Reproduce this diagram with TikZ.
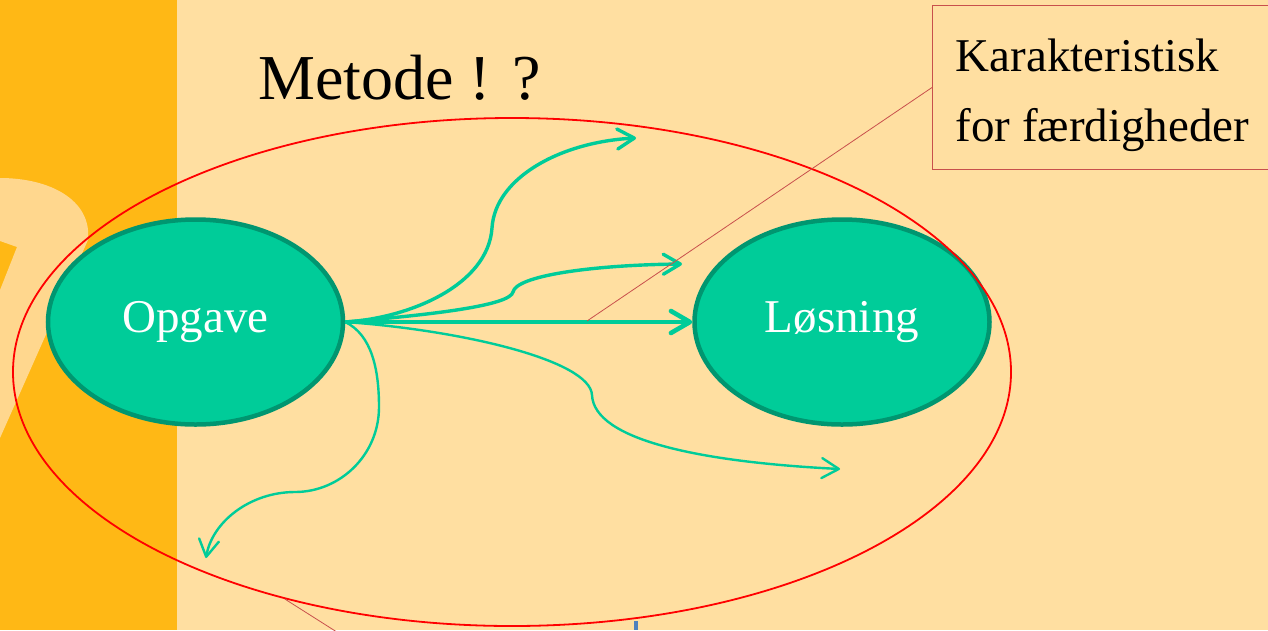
\documentclass[tikz,border=0pt]{standalone}
\usepackage{fontspec}
\setmainfont{Liberation Serif}
\definecolor{paper}{RGB}{255,223,161}
\definecolor{band}{RGB}{255,184,21}
\definecolor{glyph}{RGB}{255,215,142}
\definecolor{teal}{RGB}{0,204,153}
\definecolor{tealdark}{RGB}{0,150,112}
\definecolor{callred}{RGB}{200,80,76}
\definecolor{caret}{RGB}{79,129,189}
\usetikzlibrary{arrows.meta,shapes.geometric}
\tikzset{
  blob/.style={ellipse,draw=tealdark,line width=4.5pt,fill=teal,text=white,
               minimum width=295pt,minimum height=205pt,inner sep=0pt,
               font=\fontsize{47}{56}\selectfont},
  ring/.style={ellipse,draw=red,line width=1.8pt,minimum width=998pt,minimum height=508pt},
  callout/.style={draw=callred,line width=1pt,fill=paper,align=left,
                  font=\fontsize{47}{70}\selectfont,inner xsep=0pt},
  arr/.style={-{Straight Barb[length=17pt,width=20pt,round]},draw=teal,line width=3.4pt},
  thin arr/.style={arr,line width=2.4pt},
  lead/.style={draw=callred,line width=0.8pt},
  lbl/.style={font=\fontsize{64}{70}\selectfont,anchor=base west,inner sep=0pt},
}

\begin{document}
\begin{tikzpicture}[x=1pt,y=-1pt]
  \useasboundingbox (0,0) rectangle (1268,630);
  % slide background
  \fill[paper] (0,0) rectangle (1268,630);
  \fill[band] (0,0) rectangle (177,630);
  \fill[glyph] (0,178) .. controls (50,178) and (92,200) .. (88,240)
    -- (0,438) -- (0,290) -- (17,247) -- (0,241) -- cycle;

  \node[lbl] (title) at (258,99) {Metode ! ?};

  \node[blob] (opg) at (195.5,322) {Opgave};
  \node[blob] (los) at (842,322) {Løsning};
  \node[ring] (metode) at (512,372) {};

  \node[callout,anchor=north west,minimum width=340pt,minimum height=164pt]
    (karak) at (932,5) {\rule{0pt}{48pt}Karakteristisk\\for færdigheder};

  % arrow ends
  \coordinate (t1) at (636,138);
  \coordinate (t2) at (682,264);
  \coordinate (t3) at (840,469);
  \coordinate (t4) at (206,558);
  \coordinate (hit) at (587,321);
  \coordinate (low) at (340,634);

  \draw[arr,line width=4.6pt,-{Straight Barb[length=19pt,width=22pt,round]}] (opg.east) -- (los.west);
  \draw[arr] (opg.east) .. controls (410,318) and (488,285) .. (492,228)
    .. controls (495,178) and (560,142) .. (t1);
  \draw[arr] (opg.east) .. controls (440,314) and (510,305) .. (513,292)
    .. controls (516,276) and (590,265) .. (t2);
  \draw[thin arr] (opg.east) .. controls (460,330) and (590,360) .. (592,395)
    .. controls (594,440) and (700,462) .. (t3);
  \draw[thin arr] (opg.east) .. controls (372,335) and (379,370) .. (379,407)
    .. controls (379,455) and (340,492) .. (295,492)
    .. controls (250,492) and (212,522) .. (t4);

  \draw[lead] (karak.west) -- (hit);
  \draw[lead] (metode.225) -- (low);
  \fill[caret] (634,621) rectangle (638,630);
\end{tikzpicture}
\end{document}
